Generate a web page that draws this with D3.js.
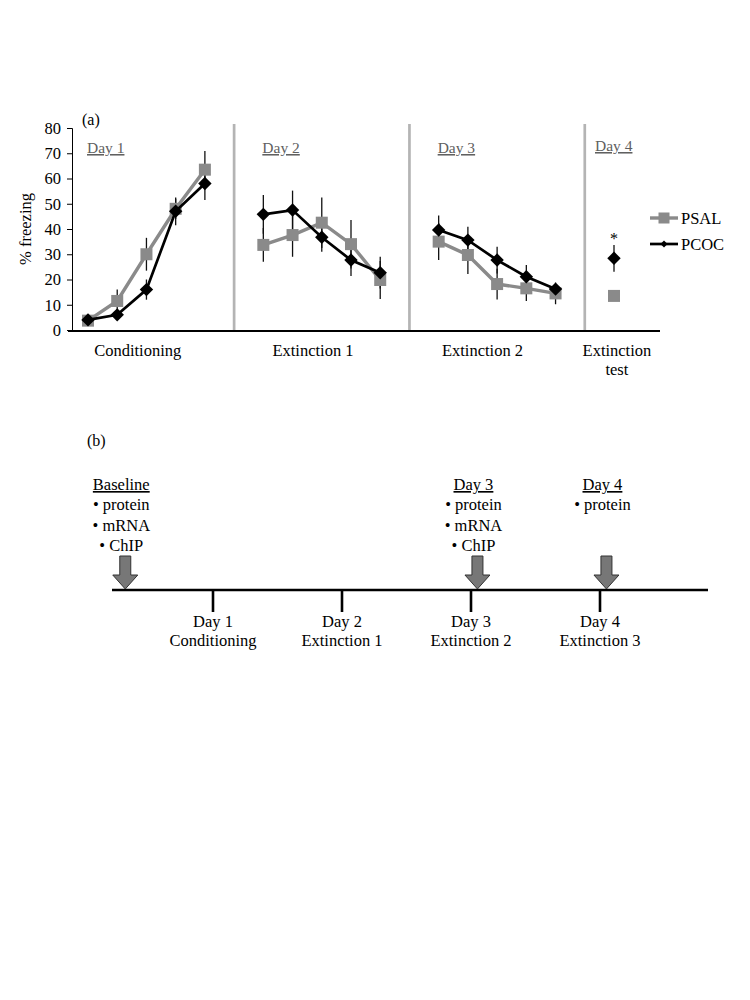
<!DOCTYPE html>
<html>
<head>
<meta charset="utf-8">
<script src="https://cdn.jsdelivr.net/npm/d3@7"></script>
<style>
  body { margin: 0; background: #fff; }
  svg text { font-family: "Liberation Serif", "DejaVu Serif", serif; }
</style>
</head>
<body>
<svg id="chart" width="750" height="1000" font-family="Liberation Serif, serif"></svg>
<script>
// panel (a): 19 category slots, null = gap between days
const psal = [3.7, 11.5, 30, 48, 63.5, null, 33.7, 37.6, 42.5, 34, 19.8, null, 35, 29.7, 18.2, 16.5, 14.5, null, 13.5];
const psalErr = [1, 4.5, 6.5, 4, 7.4, null, 6.7, 8.6, 10, 9.6, 7.5, null, 7.3, 7.5, 6.1, 5, 4.3, null, 1];
const pcoc = [4, 6, 16, 47, 58, null, 45.8, 47.5, 36.7, 27.7, 22.7, null, 39.6, 35.6, 27.7, 21.1, 16.2, null, 28.4];
const pcocErr = [1, 1.5, 4, 5.5, 6.5, null, 7.7, 7.7, 5.7, 6.3, 6.3, null, 5.7, 5.3, 5.3, 4.6, 2, null, 5.3];
const dayLabels = ["Day 1", "Day 2", "Day 3", "Day 4"];
const groupLabels = [["Conditioning"], ["Extinction 1"], ["Extinction 2"], ["Extinction", "test"]];
const yTicks = [0, 10, 20, 30, 40, 50, 60, 70, 80];

// panel (b)
const timelineDays = [1, 2, 3, 4];
const timelineLabels = [["Day 1", "Conditioning"], ["Day 2", "Extinction 1"], ["Day 3", "Extinction 2"], ["Day 4", "Extinction 3"]];
const samples = [
  { day: 0.32, title: "Baseline", items: ["• protein", "• mRNA", "• ChIP"] },
  { day: 3.05, title: "Day 3", items: ["• protein", "• mRNA", "• ChIP"] },
  { day: 4.05, title: "Day 4", items: ["• protein"] }
];

const FONT = '"Liberation Serif", "DejaVu Serif", serif';
const svg = d3.select("#chart");
const GRAY = "#8a8a8a";

const x = d3.scaleLinear().domain([0, 18]).range([88, 614]);
const y = d3.scaleLinear().domain([0, 80]).range([330, 128]);

function txt(sel) { return sel.append("text").style("font-family", FONT); }

// separators between days
[5, 11, 17].forEach(i => {
  svg.append("line")
    .attr("x1", x(i)).attr("x2", x(i))
    .attr("y1", 124).attr("y2", 331)
    .attr("stroke", "#b4b4b4").attr("stroke-width", 2.7);
});

// y axis
const yAxis = svg.append("g").attr("transform", "translate(72,0)")
  .call(d3.axisLeft(y).tickValues(yTicks).tickSize(5).tickPadding(6));
yAxis.attr("font-family", null).attr("font-size", null);
yAxis.select(".domain").attr("stroke", "#000").attr("stroke-width", 1);
yAxis.selectAll(".tick line").attr("stroke", "#000");
yAxis.selectAll("text").attr("font-size", 16.5).attr("fill", "#000")
  .style("font-family", FONT);

// x baseline
svg.append("line").attr("x1", 68).attr("x2", 660).attr("y1", 331).attr("y2", 331)
  .attr("stroke", "#000").attr("stroke-width", 2);

txt(svg).attr("x", 82).attr("y", 125).attr("font-size", 16).text("(a)");

txt(svg)
  .attr("transform", "translate(31,229) rotate(-90)")
  .attr("text-anchor", "middle").attr("font-size", 16.5).text("% freezing");

// day labels
const dayX = [0, 6, 12, 18];
dayLabels.forEach((d, i) => {
  txt(svg)
    .attr("x", i === 3 ? x(dayX[i]) - 19 : x(dayX[i]) - 1)
    .attr("y", i === 3 ? 151 : 153)
    .attr("font-size", 15.5).attr("fill", "#606060")
    .style("text-decoration", "underline").text(d);
});

// group labels under axis
const groupX = [1.7, 7.7, 13.5, 18.1];
groupLabels.forEach((lines, i) => {
  const t = txt(svg).attr("text-anchor", "middle").attr("font-size", 16.5);
  lines.forEach((l, j) => {
    t.append("tspan").attr("x", x(groupX[i])).attr("y", 356 + j * 19).text(l);
  });
});

// error bars
function errBars(vals, errs) {
  vals.forEach((v, i) => {
    if (v == null) return;
    svg.append("line")
      .attr("x1", x(i)).attr("x2", x(i))
      .attr("y1", y(v - errs[i])).attr("y2", y(v + errs[i]))
      .attr("stroke", "#111").attr("stroke-width", 1.3);
  });
}
errBars(psal, psalErr);
errBars(pcoc, pcocErr);

const line = d3.line().defined(d => d != null).x((d, i) => x(i)).y(d => y(d));

svg.append("path").datum(psal).attr("d", line)
  .attr("fill", "none").attr("stroke", GRAY).attr("stroke-width", 3.4);
svg.selectAll(".sq").data(psal.map((v, i) => [i, v]).filter(d => d[1] != null))
  .join("rect").attr("class", "sq")
  .attr("x", d => x(d[0]) - 6).attr("y", d => y(d[1]) - 6)
  .attr("width", 12).attr("height", 12).attr("fill", GRAY);

svg.append("path").datum(pcoc).attr("d", line)
  .attr("fill", "none").attr("stroke", "#000").attr("stroke-width", 2.7);
const diamond = d3.symbol().type(d3.symbolDiamond2).size(115);
svg.selectAll(".dm").data(pcoc.map((v, i) => [i, v]).filter(d => d[1] != null))
  .join("path").attr("class", "dm")
  .attr("d", diamond)
  .attr("transform", d => `translate(${x(d[0])},${y(d[1])})`)
  .attr("fill", "#000");

// significance star
txt(svg).attr("x", x(18)).attr("y", y(pcoc[18] + pcocErr[18]) - 1)
  .attr("text-anchor", "middle").attr("font-size", 16).text("*");

// legend
const legend = [["PSAL", GRAY, "sq"], ["PCOC", "#000", "dm"]];
legend.forEach((d, i) => {
  const ly = 218 + i * 26;
  svg.append("line").attr("x1", 650).attr("x2", 678).attr("y1", ly).attr("y2", ly)
    .attr("stroke", d[1]).attr("stroke-width", d[2] === "sq" ? 3.4 : 2.7);
  if (d[2] === "sq") {
    svg.append("rect").attr("x", 658.5).attr("y", ly - 5.5).attr("width", 11).attr("height", 11).attr("fill", d[1]);
  } else {
    svg.append("path").attr("d", d3.symbol().type(d3.symbolDiamond2).size(32))
      .attr("transform", `translate(664,${ly})`).attr("fill", d[1]);
  }
  txt(svg).attr("x", 681).attr("y", ly).attr("dy", "0.35em")
    .attr("font-size", 16.5).text(d[0]);
});

// ---------- panel (b) ----------
txt(svg).attr("x", 87).attr("y", 446).attr("font-size", 16).text("(b)");

const tx = d3.scaleLinear().domain([1, 4]).range([213, 600]);
const lineY = 590;

svg.append("line").attr("x1", 112).attr("x2", 708).attr("y1", lineY).attr("y2", lineY)
  .attr("stroke", "#000").attr("stroke-width", 2.6);

timelineDays.forEach((d, i) => {
  svg.append("line").attr("x1", tx(d)).attr("x2", tx(d))
    .attr("y1", lineY).attr("y2", lineY + 22)
    .attr("stroke", "#000").attr("stroke-width", 2.6);
  const t = txt(svg).attr("text-anchor", "middle").attr("font-size", 16.5);
  timelineLabels[i].forEach((l, j) => {
    t.append("tspan").attr("x", tx(d)).attr("y", 627 + j * 19).text(l);
  });
});

samples.forEach(s => {
  const cx = tx(s.day);
  // arrow
  const pts = [[cx - 5.5, 556], [cx + 5.5, 556], [cx + 5.5, 575], [cx + 12.5, 575],
               [cx, 589], [cx - 12.5, 575], [cx - 5.5, 575]];
  svg.append("path").attr("d", d3.line()(pts) + "Z")
    .attr("fill", "#777").attr("stroke", "#333").attr("stroke-width", 1);
  txt(svg).attr("x", cx - 4).attr("y", 490).attr("text-anchor", "middle")
    .attr("font-size", 16.5).style("text-decoration", "underline").text(s.title);
  s.items.forEach((it, j) => {
    txt(svg).attr("x", cx - 4).attr("y", 510 + j * 20.5).attr("text-anchor", "middle")
      .attr("font-size", 16.5).text(it);
  });
});
</script>
</body>
</html>
